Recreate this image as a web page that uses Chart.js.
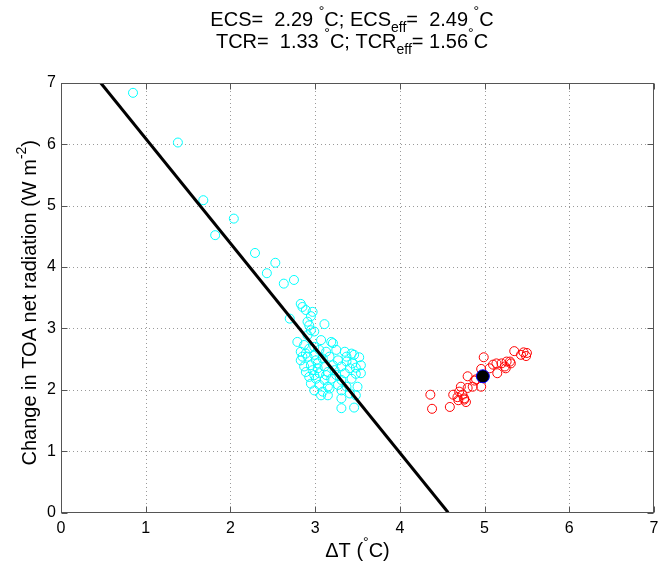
<!DOCTYPE html>
<html>
<head>
<meta charset="utf-8">
<script src="https://cdn.jsdelivr.net/npm/chart.js@4.4.1/dist/chart.umd.min.js"></script>
<style>html,body{margin:0;padding:0;background:#fff}</style>
</head>
<body>
<canvas id="myChart" width="665" height="566"></canvas>
<script>
// tick labels
const xTicks = [0, 1, 2, 3, 4, 5, 6, 7];
const yTicks = [0, 1, 2, 3, 4, 5, 6, 7];

// early years (cyan)
const cyanX = [0.85, 1.38, 1.68, 2.04, 1.82, 2.29, 2.53, 2.43, 2.63, 2.75,
  2.83, 2.85, 2.89, 2.97, 2.95, 2.70, 2.91, 2.93, 3.11, 2.99,
  2.95, 2.91, 2.79, 3.07, 3.19, 3.21, 2.87, 2.93, 2.99, 3.05,
  3.13, 3.25, 3.35, 3.43, 3.46, 3.52, 2.83, 2.91, 2.99, 3.09,
  3.17, 3.27, 3.37, 3.44, 2.87, 2.95, 3.03, 3.11, 3.21, 3.31,
  3.41, 3.48, 2.89, 2.97, 3.05, 3.15, 3.25, 3.35, 3.48, 2.93,
  3.01, 3.11, 3.19, 3.31, 3.43, 2.95, 3.05, 3.15, 3.27, 3.37,
  3.50, 2.99, 3.09, 3.17, 3.07, 3.15, 3.31, 3.41, 3.48, 3.31,
  3.31, 3.46, 2.83, 2.89, 2.85, 3.01, 3.13, 3.23, 3.54, 3.54,
  3.37, 3.03, 2.99];
const cyanY = [6.84, 6.03, 5.09, 4.79, 4.52, 4.23, 4.07, 3.90, 3.73, 3.79,
  3.40, 3.35, 3.30, 3.27, 3.20, 3.16, 3.11, 3.05, 3.07, 2.95,
  2.97, 2.89, 2.78, 2.81, 2.78, 2.76, 2.73, 2.67, 2.70, 2.65,
  2.62, 2.65, 2.62, 2.59, 2.57, 2.53, 2.48, 2.54, 2.57, 2.51,
  2.54, 2.48, 2.46, 2.43, 2.38, 2.40, 2.43, 2.38, 2.40, 2.38,
  2.35, 2.36, 2.29, 2.32, 2.27, 2.29, 2.24, 2.27, 2.26, 2.21,
  2.18, 2.16, 2.18, 2.16, 2.18, 2.10, 2.08, 2.05, 2.08, 2.05,
  2.05, 1.99, 1.97, 2.02, 1.91, 1.91, 1.99, 1.94, 1.91, 1.86,
  1.70, 1.71, 2.62, 2.59, 2.54, 2.48, 2.24, 2.32, 2.40, 2.27,
  2.54, 2.35, 2.24];

// late years (red)
const redX = [4.36, 4.38, 4.59, 4.63, 4.69, 4.70, 4.74, 4.76, 4.76, 4.80,
  4.80, 4.86, 4.88, 4.90, 4.96, 4.96, 4.99, 5.06, 5.10, 5.15,
  5.14, 5.20, 5.24, 5.26, 5.30, 5.31, 5.35, 5.43, 5.46, 5.49,
  5.50, 5.25, 4.72, 4.68, 4.78];
const redY = [1.92, 1.69, 1.72, 1.92, 1.83, 1.97, 1.92, 1.86, 1.84, 2.22,
  2.03, 2.05, 2.15, 2.17, 2.05, 2.34, 2.53, 2.35, 2.41, 2.27,
  2.43, 2.43, 2.38, 2.46, 2.46, 2.43, 2.63, 2.57, 2.61, 2.55,
  2.60, 2.35, 2.05, 1.88, 1.80];

// mean of late years
const meanX = [4.98];
const meanY = [2.22];

// regression line
const fitX = [0.47, 4.57];
const fitY = [7, 0];

const zip = (xs, ys) => xs.map((x, i) => ({x: x, y: ys[i]}));
const FONT = 'Liberation Sans, Arial, sans-serif';

// texte avec exposants / indices
function drawRich(ctx, parts, x, y, size) {
    let w = 0;
    parts.forEach(p => {
        ctx.font = (p[1] ? size * 0.7 : size) + 'px ' + FONT;
        w += ctx.measureText(p[0]).width;
    });
    let cx = x - w / 2;
    parts.forEach(p => {
        ctx.font = (p[1] ? size * 0.7 : size) + 'px ' + FONT;
        let dy = p[1] === 1 ? -size * 0.5 : (p[1] === -1 ? size * 0.3 : 0);
        ctx.fillText(p[0], cx, y + dy);
        cx += ctx.measureText(p[0]).width;
    });
}

const matlabAxes = {
    id: 'matlabAxes',
    beforeDatasetsDraw(chart) {
        const {ctx, chartArea: a, scales: {x, y}} = chart;
        ctx.save();
        ctx.strokeStyle = '#9a9a9a';
        ctx.lineWidth = 1;
        ctx.setLineDash([1, 3]);
        xTicks.slice(1, -1).forEach(v => {
            const px = Math.round(x.getPixelForValue(v)) + 0.5;
            ctx.beginPath(); ctx.moveTo(px, a.top); ctx.lineTo(px, a.bottom); ctx.stroke();
        });
        yTicks.slice(1, -1).forEach(v => {
            const py = Math.round(y.getPixelForValue(v)) + 0.5;
            ctx.beginPath(); ctx.moveTo(a.left, py); ctx.lineTo(a.right, py); ctx.stroke();
        });
        ctx.restore();
    },
    afterDraw(chart) {
        const {ctx, chartArea: a, scales: {x, y}} = chart;
        ctx.save();
        ctx.strokeStyle = '#555';
        ctx.lineWidth = 1;
        const L = Math.round(a.left) + 0.5, R = Math.round(a.right) - 0.5;
        const T = Math.round(a.top) + 0.5, B = Math.round(a.bottom) - 0.5;
        ctx.strokeRect(L, T, R - L, B - T);
        ctx.beginPath();
        xTicks.forEach(v => {
            const px = Math.round(x.getPixelForValue(v)) + 0.5;
            ctx.moveTo(px, B); ctx.lineTo(px, B - 6);
            ctx.moveTo(px, T); ctx.lineTo(px, T + 6);
        });
        yTicks.forEach(v => {
            const py = Math.round(y.getPixelForValue(v)) + 0.5;
            ctx.moveTo(L, py); ctx.lineTo(L + 6, py);
            ctx.moveTo(R, py); ctx.lineTo(R - 6, py);
        });
        ctx.stroke();

        ctx.fillStyle = '#000';
        ctx.textBaseline = 'alphabetic';
        ctx.textAlign = 'left';
        // titre
        drawRich(ctx, [['ECS=  2.29 ', 0], ['°', 1], ['C; ECS', 0], ['eff', -1], ['=  2.49 ', 0], ['°', 1], ['C', 0]], 352, 26, 20);
        drawRich(ctx, [['TCR=  1.33 ', 0], ['°', 1], ['C; TCR', 0], ['eff', -1], ['= 1.56', 0], ['°', 1], ['C', 0]], 352, 48, 20);
        // axe x
        drawRich(ctx, [['ΔT (', 0], ['°', 1], ['C)', 0]], (a.left + a.right) / 2, 557, 20);
        // axe y
        ctx.translate(36, (a.top + a.bottom) / 2 + 5);
        ctx.rotate(-Math.PI / 2);
        drawRich(ctx, [['Change in TOA net radiation (W m', 0], ['-2', 1], [')', 0]], 0, 0, 20);
        ctx.restore();
    }
};

const ctx1 = document.getElementById('myChart');

new Chart(ctx1, {
    type: 'scatter',
    data: {
        datasets: [{
            type: 'line',
            data: zip(fitX, fitY),
            borderColor: '#000',
            borderWidth: 3,
            pointRadius: 0,
            fill: false,
            order: 1
        }, {
            data: zip(meanX, meanY),
            pointRadius: 6.5,
            backgroundColor: '#000',
            borderColor: '#0000ff',
            borderWidth: 1,
            order: 0
        }, {
            data: zip(redX, redY),
            pointRadius: 4.5,
            backgroundColor: 'rgba(0,0,0,0)',
            borderColor: '#ff0000',
            borderWidth: 1,
            order: 2
        }, {
            data: zip(cyanX, cyanY),
            pointRadius: 4.5,
            backgroundColor: 'rgba(0,0,0,0)',
            borderColor: '#00ffff',
            borderWidth: 1,
            order: 3
        }]
    },
    options: {
        responsive: false,
        animation: false,
        devicePixelRatio: 1,
        layout: {
            padding: {top: 83, right: 11, left: 0, bottom: 0}
        },
        plugins: {
            legend: {display: false},
            tooltip: {enabled: false}
        },
        scales: {
            x: {
                type: 'linear',
                min: 0,
                max: 7,
                afterBuildTicks: s => { s.ticks = xTicks.map(v => ({value: v})); },
                afterFit: s => { s.height = 53.5; },
                grid: {display: false, drawTicks: false},
                border: {display: false},
                ticks: {color: '#000', padding: 6, font: {family: FONT, size: 16}, maxRotation: 0}
            },
            y: {
                type: 'linear',
                min: 0,
                max: 7,
                afterBuildTicks: s => { s.ticks = yTicks.map(v => ({value: v})); },
                afterFit: s => { s.width = 61; },
                grid: {display: false, drawTicks: false},
                border: {display: false},
                ticks: {color: '#000', padding: 5, font: {family: FONT, size: 16}}
            }
        }
    },
    plugins: [matlabAxes]
});
</script>
</body>
</html>
